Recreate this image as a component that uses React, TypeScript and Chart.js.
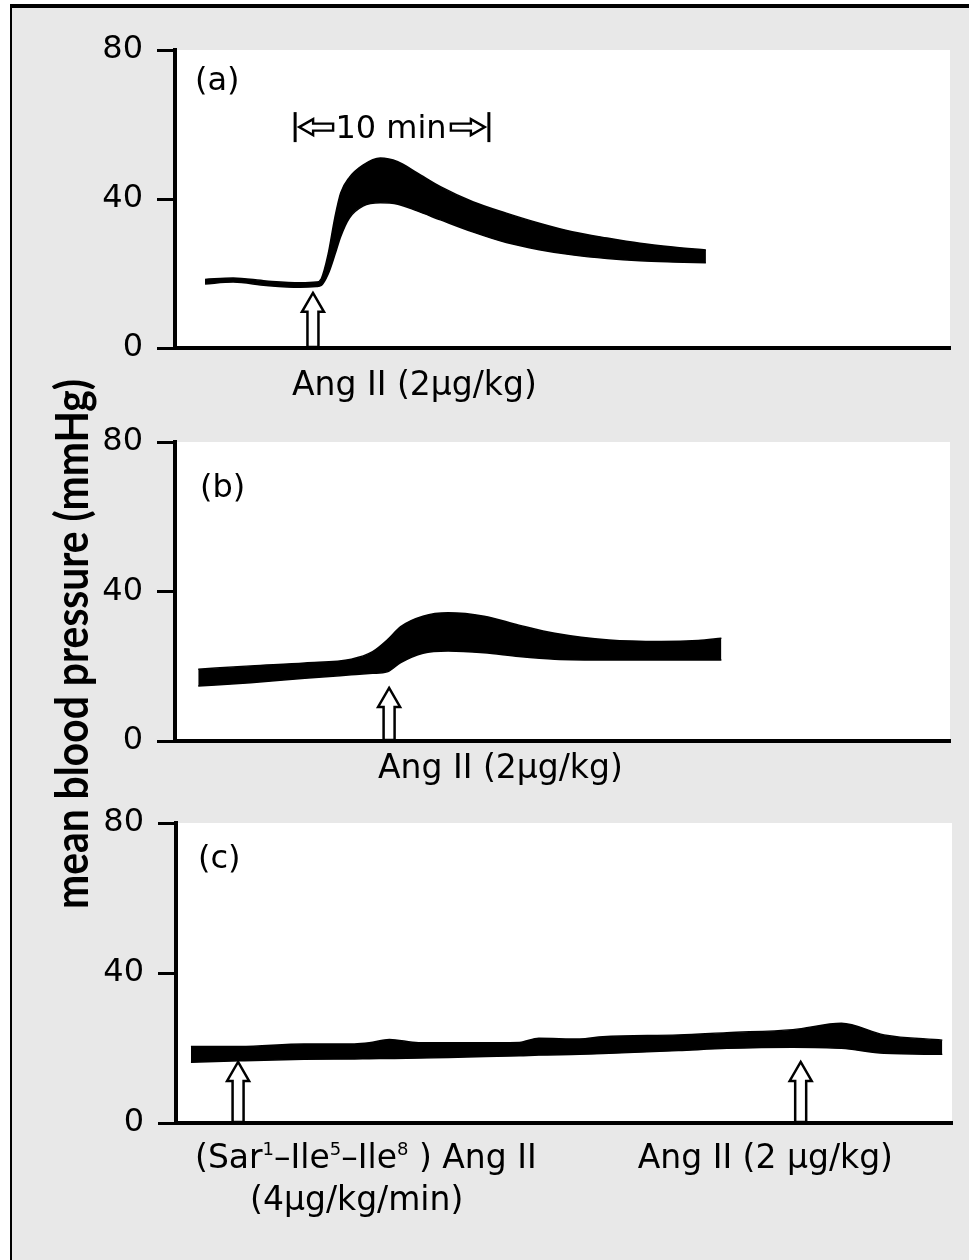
import React, { useEffect, useRef } from "react";
import { Chart, registerables } from "chart.js";

Chart.register(...registerables);

const FONT = "'DejaVu Sans', Lato, sans-serif";
const TITLE_FONT = "Lato, 'DejaVu Sans', sans-serif";

// ---- data (x in minutes, y in mmHg) ----
const timeA = [1.55, 3.0, 4.7, 6.45, 7.3, 7.55, 7.9, 8.25, 8.55, 9.0, 9.7, 10.6, 11.5, 12.5, 13.7, 15.4, 17.1, 18.8, 20.5, 22.3, 24.0, 25.7, 27.4];
const upperA = [18.4, 18.8, 18.0, 17.5, 17.7, 18.6, 25.1, 35.0, 41.6, 45.8, 49.1, 51.0, 50.0, 47.0, 43.3, 39.2, 36.2, 33.5, 31.2, 29.5, 28.1, 27.1, 26.3];
const lowerA = [17.2, 17.7, 16.8, 16.3, 16.5, 16.8, 19.8, 25.0, 29.9, 34.9, 38.1, 39.0, 38.6, 36.8, 34.4, 31.1, 28.3, 26.4, 25.0, 24.0, 23.4, 23.1, 22.9];

const timeB = [1.2, 3.9, 6.7, 9.1, 10.2, 10.95, 11.65, 12.8, 14.1, 15.95, 17.75, 19.6, 22.4, 25.1, 27.0, 28.2];
const upperB = [19.2, 20.1, 20.9, 21.9, 23.9, 27.0, 30.6, 33.4, 34.3, 33.4, 31.0, 28.8, 27.0, 26.6, 26.9, 27.5];
const lowerB = [14.7, 15.6, 16.8, 17.7, 18.1, 18.5, 21.0, 23.5, 24.1, 23.6, 22.6, 21.9, 21.7, 21.7, 21.7, 21.7];

const timeC = [0.77, 3.3, 6.6, 9.2, 9.96, 11.0, 12.5, 15.0, 17.7, 18.7, 20.8, 22.0, 25.9, 28.4, 31.8, 34.3, 36.5, 39.5];
const upperC = [20.4, 20.4, 21.1, 21.1, 21.4, 22.3, 21.4, 21.4, 21.5, 22.6, 22.4, 23.0, 23.5, 24.1, 24.9, 26.6, 23.5, 22.1];
const lowerC = [16.2, 16.6, 17.0, 17.1, 17.15, 17.2, 17.3, 17.6, 17.9, 18.1, 18.3, 18.5, 19.3, 19.9, 20.2, 19.9, 18.6, 18.3];

// injection arrows (time, tip value)
const arrowTimesA = [7.12];
const arrowTipsA = [14.8];
const arrowTimesB = [11.05];
const arrowTipsB = [14.2];
const arrowTimesC = [3.2, 32.2];
const arrowTipsC = [16.3, 16.3];

// 10 min scale bar (start, end in minutes; value level)
const scaleBarStart = 6.2;
const scaleBarEnd = 16.2;
const scaleBarLevel = 59.3;

const yTicks = [0, 40, 80];
const panelLabels = ["(a)", "(b)", "(c)"];
const yTitle = "mean blood pressure (mmHg)";

type Seg = { t: string; sup?: boolean };
type TextItem = { x: number; dy: number; segs: Seg[] };

function drawRich(ctx: CanvasRenderingContext2D, segs: Seg[], x: number, y: number, size: number) {
  let cx = x;
  for (const s of segs) {
    if (s.sup) {
      ctx.font = `${Math.round(size * 0.55)}px ${FONT}`;
      ctx.fillText(s.t, cx, y - size * 0.38);
    } else {
      ctx.font = `${size}px ${FONT}`;
      ctx.fillText(s.t, cx, y);
    }
    cx += ctx.measureText(s.t).width;
  }
}

function hollowUpArrow(ctx: CanvasRenderingContext2D, cx: number, tipY: number, baseY: number) {
  const hw = 11, hh = 19, sw = 5.5;
  ctx.beginPath();
  ctx.moveTo(cx, tipY);
  ctx.lineTo(cx + hw, tipY + hh);
  ctx.lineTo(cx + sw, tipY + hh);
  ctx.lineTo(cx + sw, baseY);
  ctx.lineTo(cx - sw, baseY);
  ctx.lineTo(cx - sw, tipY + hh);
  ctx.lineTo(cx - hw, tipY + hh);
  ctx.closePath();
  ctx.fillStyle = "#fff";
  ctx.fill();
  ctx.lineWidth = 2.5;
  ctx.strokeStyle = "#000";
  ctx.lineJoin = "miter";
  ctx.stroke();
}

function hollowSideArrow(ctx: CanvasRenderingContext2D, tipX: number, dir: number, cy: number) {
  const len = 34, headLen = 14, hh = 8, sh = 3.5;
  const bx = tipX + dir * len;
  const hx = tipX + dir * headLen;
  ctx.beginPath();
  ctx.moveTo(tipX, cy);
  ctx.lineTo(hx, cy - hh);
  ctx.lineTo(hx, cy - sh);
  ctx.lineTo(bx, cy - sh);
  ctx.lineTo(bx, cy + sh);
  ctx.lineTo(hx, cy + sh);
  ctx.lineTo(hx, cy + hh);
  ctx.closePath();
  ctx.fillStyle = "#fff";
  ctx.fill();
  ctx.lineWidth = 2.4;
  ctx.strokeStyle = "#000";
  ctx.stroke();
}

const decorPlugin = {
  id: "decor",
  beforeDraw(chart: any) {
    const { ctx, chartArea: ca } = chart;
    ctx.save();
    ctx.fillStyle = "#fff";
    ctx.fillRect(ca.left, ca.top, ca.right - ca.left, ca.bottom - ca.top);
    ctx.restore();
  },
  afterDraw(chart: any) {
    const o = chart.options.plugins.decor;
    if (!o) return;
    const ctx: CanvasRenderingContext2D = chart.ctx;
    const xs = chart.scales.x;
    const ys = chart.scales.y;
    const ca = chart.chartArea;
    ctx.save();
    ctx.fillStyle = "#000";
    ctx.textBaseline = "alphabetic";
    ctx.textAlign = "left";
    // panel label
    ctx.font = `32px ${FONT}`;
    ctx.fillText(o.label, ca.left + o.labelDx, ca.top + o.labelDy);
    // arrows
    const base = ys.getPixelForValue(0) - 1;
    o.arrowTimes.forEach((t: number, i: number) => {
      hollowUpArrow(ctx, xs.getPixelForValue(t), ys.getPixelForValue(o.arrowTips[i]), base);
    });
    // texts below axis
    ctx.fillStyle = "#000";
    o.texts.forEach((tx: TextItem) => {
      drawRich(ctx, tx.segs, xs.getPixelForValue(tx.x), ca.bottom + tx.dy, 33);
    });
    // scale bar
    if (o.scaleBar) {
      const x0 = xs.getPixelForValue(scaleBarStart);
      const x1 = xs.getPixelForValue(scaleBarEnd);
      const cy = ys.getPixelForValue(scaleBarLevel);
      ctx.fillStyle = "#000";
      ctx.fillRect(x0 - 1.5, cy - 15, 3, 30);
      ctx.fillRect(x1 - 1.5, cy - 15, 3, 30);
      hollowSideArrow(ctx, x0 + 4, 1, cy);
      hollowSideArrow(ctx, x1 - 4, -1, cy);
      ctx.fillStyle = "#000";
      ctx.font = `32px ${FONT}`;
      ctx.textAlign = "center";
      ctx.fillText("10 min", (x0 + x1) / 2 - 1, cy + 11);
      ctx.textAlign = "left";
    }
    // y title
    if (o.title) {
      ctx.save();
      ctx.translate(88, 644);
      ctx.rotate(-Math.PI / 2);
      ctx.textAlign = "center";
      ctx.font = `bold 46px ${TITLE_FONT}`;
      const w = ctx.measureText(o.title).width;
      ctx.scale(530 / w, 1);
      ctx.fillStyle = "#000";
      ctx.fillText(o.title, 0, 0);
      ctx.restore();
    }
    ctx.restore();
  },
};

function makeConfig(
  times: number[], upper: number[], lower: number[],
  pad: { top: number; bottom: number; right: number }, axisLeft: number,
  decor: any
): any {
  return {
    type: "line",
    data: {
      datasets: [
        {
          data: times.map((t, i) => ({ x: t, y: upper[i] })),
          borderColor: "#000",
          backgroundColor: "#000",
          borderWidth: 1.5,
          pointRadius: 0,
          fill: "+1",
          cubicInterpolationMode: "monotone",
        },
        {
          data: times.map((t, i) => ({ x: t, y: lower[i] })),
          borderColor: "#000",
          borderWidth: 1.5,
          pointRadius: 0,
          fill: false,
          cubicInterpolationMode: "monotone",
        },
      ],
    },
    options: {
      responsive: false,
      animation: false,
      events: [],
      layout: { padding: { top: pad.top, bottom: pad.bottom, right: pad.right, left: 0 } },
      scales: {
        x: {
          type: "linear",
          min: 0,
          max: 40,
          ticks: { display: false },
          grid: { display: false, drawTicks: false },
          border: { display: true, color: "#000", width: 4 },
          afterFit: (s: any) => { s.height = 0; },
        },
        y: {
          min: 0,
          max: 80,
          afterBuildTicks: (s: any) => { s.ticks = yTicks.map((v) => ({ value: v })); },
          ticks: { color: "#000", padding: 14, font: { family: FONT, size: 32 } },
          grid: { drawOnChartArea: false, drawTicks: true, tickLength: 18, color: "#000", lineWidth: 3 },
          border: { display: true, color: "#000", width: 4 },
          afterFit: (s: any) => { s.width = axisLeft; },
        },
      },
      plugins: {
        legend: { display: false },
        tooltip: { enabled: false },
        decor,
      },
    },
    plugins: [decorPlugin],
  };
}

export default function App() {
  const refA = useRef<HTMLCanvasElement>(null);
  const refB = useRef<HTMLCanvasElement>(null);
  const refC = useRef<HTMLCanvasElement>(null);

  useEffect(() => {
    const charts: Chart[] = [];
    charts.push(new Chart(refA.current!, makeConfig(timeA, upperA, lowerA, { top: 50, bottom: 1260 - 348, right: 19 }, 175, {
      label: panelLabels[0],
      labelDx: 20,
      labelDy: 40,
      arrowTimes: arrowTimesA,
      arrowTips: arrowTipsA,
      texts: [{ x: 6.04, dy: 47, segs: [{ t: "Ang II (2μg/kg)" }] }],
      scaleBar: true,
    })));
    charts.push(new Chart(refB.current!, makeConfig(timeB, upperB, lowerB, { top: 442, bottom: 1260 - 741, right: 19 }, 175, {
      label: panelLabels[1],
      labelDx: 25,
      labelDy: 55,
      arrowTimes: arrowTimesB,
      arrowTips: arrowTipsB,
      texts: [{ x: 10.48, dy: 37, segs: [{ t: "Ang II (2μg/kg)" }] }],
      title: yTitle,
    })));
    charts.push(new Chart(refC.current!, makeConfig(timeC, upperC, lowerC, { top: 823, bottom: 1260 - 1123, right: 17 }, 176, {
      label: panelLabels[2],
      labelDx: 22,
      labelDy: 45,
      arrowTimes: arrowTimesC,
      arrowTips: arrowTipsC,
      texts: [
        { x: 0.98, dy: 45, segs: [{ t: "(Sar" }, { t: "1", sup: true }, { t: "–Ile" }, { t: "5", sup: true }, { t: "–Ile" }, { t: "8", sup: true }, { t: " ) Ang II" }] },
        { x: 3.82, dy: 87, segs: [{ t: "(4μg/kg/min)" }] },
        { x: 23.8, dy: 45, segs: [{ t: "Ang II (2 μg/kg)" }] },
      ],
    })));
    return () => charts.forEach((c) => c.destroy());
  }, []);

  const cv: React.CSSProperties = { position: "absolute", left: 0, top: 0, width: 969, height: 1260 };
  return (
    <div style={{ position: "absolute", left: 0, top: 0, width: 969, height: 1260, background: "#fff", overflow: "hidden" }}>
      <div style={{ position: "absolute", left: 10, top: 4, right: 0, bottom: 0, background: "#e8e8e8", borderTop: "4px solid #000", borderLeft: "2px solid #000" }} />
      <canvas ref={refA} width={969} height={1260} style={cv} />
      <canvas ref={refC} width={969} height={1260} style={cv} />
      <canvas ref={refB} width={969} height={1260} style={cv} />
    </div>
  );
}
